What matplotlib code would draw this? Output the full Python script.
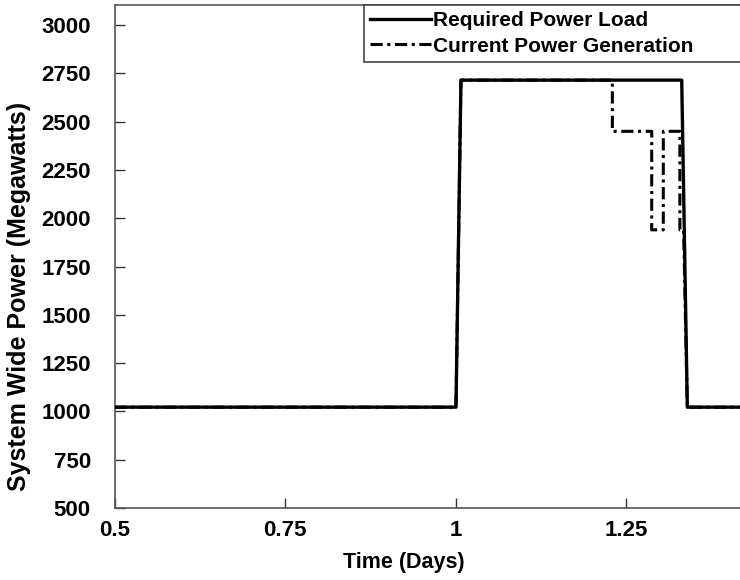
import matplotlib
matplotlib.use("Agg")
import matplotlib.pyplot as plt

plt.rcParams['font.family'] = ['Liberation Sans', 'DejaVu Sans']
plt.rcParams['font.weight'] = 'bold'

# Data (time in days, power in MW)
load_t = [0.5, 1.0007, 1.008, 1.3317, 1.3399, 1.5]
load_p = [1022, 1022, 2715, 2715, 1022, 1022]

gen_t = [0.5, 1.0007, 1.008, 1.230, 1.230, 1.2877, 1.2877, 1.3047, 1.3047,
         1.329, 1.329, 1.3345, 1.3399, 1.5]
gen_p = [1022, 1022, 2715, 2715, 2450, 2450, 1940, 1940, 2450,
         2450, 1940, 1940, 1022, 1022]

xticks = [0.5, 0.75, 1.0, 1.25]
xticklabels = ['0.5', '0.75', '1', '1.25']
yticks = [500, 750, 1000, 1250, 1500, 1750, 2000, 2250, 2500, 2750, 3000]

fig = plt.figure(figsize=(7.4, 5.8), dpi=100)
ax = fig.add_axes([114.5 / 740, 1 - 508 / 580, 682 / 740, (508 - 5) / 580])

ax.plot(gen_t, gen_p, color='black', lw=2.2, linestyle=(0, (4, 1.5, 1, 1.5)),
        label='Current Power Generation', zorder=2)
ax.plot(load_t, load_p, color='black', lw=2.4, label='Required Power Load', zorder=3)

ax.set_xlim(0.5, 1.5)
ax.set_ylim(500, 3104)
ax.set_xticks(xticks)
ax.set_xticklabels(xticklabels)
ax.set_yticks(yticks)
ax.tick_params(direction='in', length=7, width=1, labelsize=16, color='#333333')
ax.tick_params(axis='y', pad=17)
ax.tick_params(axis='x', pad=9)
for lab in ax.get_xticklabels() + ax.get_yticklabels():
    lab.set_fontweight('bold')
for s in ax.spines.values():
    s.set_color('#555555')
    s.set_linewidth(1.2)

ax.set_xlabel('Time (Days)', fontsize=15.5, fontweight='bold')
ax.xaxis.set_label_coords(0.4245, -0.088)
ax.set_ylabel('System Wide Power (Megawatts)', fontsize=18, fontweight='bold')
ax.yaxis.set_label_coords(-0.1224, 0.42)

handles, labels = ax.get_legend_handles_labels()
leg = fig.legend(handles[::-1], labels[::-1], loc='upper left',
                 bbox_to_anchor=(364 / 740, 1 - 61 / 580, 0.6, 56 / 580),
                 bbox_transform=fig.transFigure, mode='expand',
                 handlelength=2.9, handletextpad=0.1, borderpad=0.3,
                 labelspacing=0.3, borderaxespad=0, fancybox=False, framealpha=1,
                 edgecolor='#444444', prop={'weight': 'bold', 'size': 15})
leg.get_frame().set_linewidth(1.2)

fig.savefig('out.png', dpi=100)
